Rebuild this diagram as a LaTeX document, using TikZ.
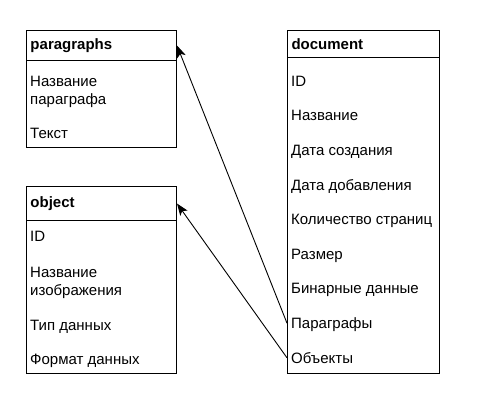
\documentclass[tikz,border=0pt]{standalone}
\usepackage{fontspec}
\setmainfont{Liberation Sans}
\usetikzlibrary{arrows.meta}
\tikzset{
  tbl/.style={draw, line width=1pt, anchor=north west, inner sep=0pt},
  head/.style={draw, line width=1pt, anchor=north west, inner xsep=4pt, inner ysep=0pt,
    text width=#1, align=left, font=\bfseries\fontsize{15}{18}\selectfont},
  fld/.style={anchor=west, inner xsep=4pt, inner ysep=0pt, text height=10.7pt, text depth=0pt,
    font=\fontsize{15}{18}\selectfont},
  fldtwo/.style={anchor=base west, inner xsep=4pt, inner ysep=0pt, align=left,
    font=\fontsize{15}{18}\selectfont},
  link/.style={-{Stealth[length=12pt,width=9pt,inset=3pt]}, line width=0.9pt}
}
\begin{document}
\begin{tikzpicture}[x=1pt,y=-1pt]
\useasboundingbox (0,0) rectangle (482,415);
% paragraphs
\node[tbl, minimum width=150pt, minimum height=117pt] (paragraphs) at (26,30) {};
\node[head=142pt, minimum height=30pt] (paragraphs-h) at (26,30) {paragraphs};
\node[fldtwo] (p-name) at (26,104) {Название\\параграфа};
\node[fld] (p-text) at (26,133) {Текст};
% object
\node[tbl, minimum width=150pt, minimum height=187pt] (object) at (26,186) {};
\node[head=142pt, minimum height=34pt] (object-h) at (26,186) {object};
\node[fld] (o-id) at (26,236) {ID};
\node[fldtwo] (o-name) at (26,295) {Название\\изображения};
\node[fld] (o-type) at (26,325) {Тип данных};
\node[fld] (o-format) at (26,359) {Формат данных};
% document
\node[tbl, minimum width=152pt, minimum height=343pt] (document) at (287,30) {};
\node[head=144pt, minimum height=27pt] (document-h) at (287,30) {document};
\foreach \t [count=\i] in {ID,Название,Дата создания,Дата добавления,Количество страниц,%
    Размер,Бинарные данные,Параграфы,Объекты}{%
    \node[fld] (d\i) at (287,{81+34.6*(\i-1)}) {\t};
}
\draw[link] (d8.west) -- (paragraphs-h.east);
\draw[link] (d9.west) -- (object-h.east);
\end{tikzpicture}
\end{document}
